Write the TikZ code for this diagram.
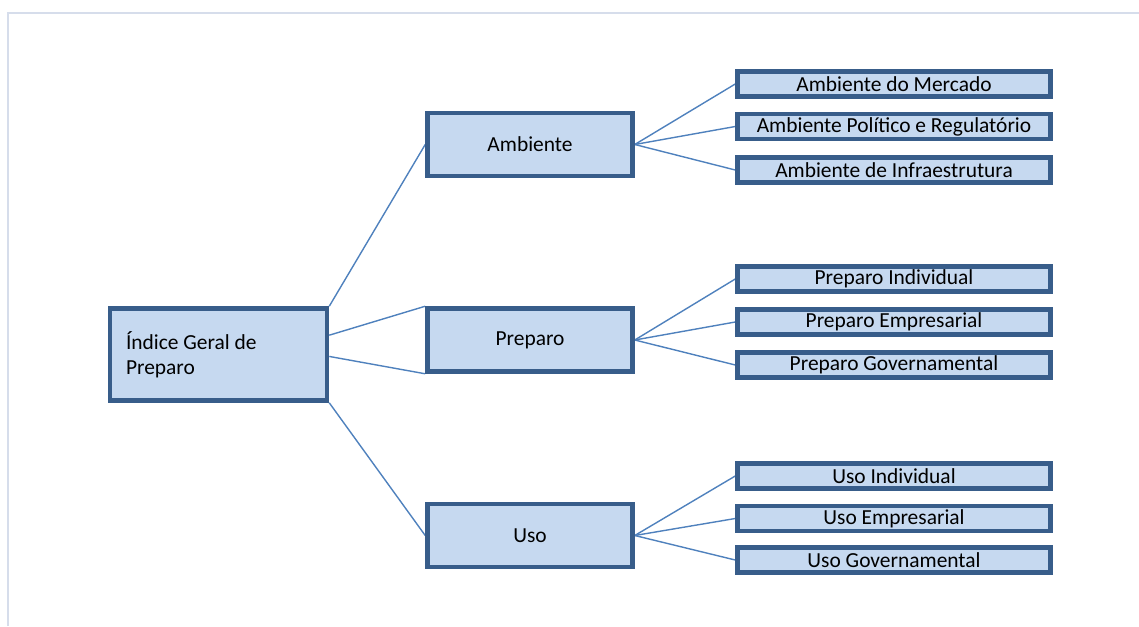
\documentclass[tikz,border=0pt]{standalone}
\usepackage{fontspec}
\setmainfont{Carlito}
\usetikzlibrary{calc,backgrounds}

\definecolor{boxfill}{RGB}{198,217,240}
\definecolor{boxline}{RGB}{56,93,138}
\definecolor{linkline}{RGB}{79,129,189}
\definecolor{frameline}{RGB}{214,221,235}

\tikzset{
    box/.style={draw=boxline,fill=boxfill,line width=2.6pt,inner sep=0pt,
        font=\fontsize{12.2}{14.2}\selectfont},
    mid/.style={box,minimum width=4.1cm,minimum height=1.26cm},
    leaf/.style={box,minimum width=6.26cm,minimum height=0.5cm},
    link/.style={draw=linkline,line width=0.8pt}
}

\begin{document}
\begin{tikzpicture}[x=0.02cm,y=-0.02cm]
    \useasboundingbox (0,0) rectangle (1139,626);
    \draw [frameline,line width=0.8pt] (8,626) -- (8,13) -- (1139,13);

    \node [box,text width=3.7cm,inner xsep=0.32cm,minimum height=1.84cm,align=flush left]
        (root) at (218.5,354.5) {Índice Geral de\\Preparo};

    \node [mid] (amb) at (530,144.5) {Ambiente};
    \node [mid] (prep) at (530,340) {Preparo};
    \node [mid] (uso) at (530,535.5) {Uso};

    \node [leaf] (amb1) at (894,84) {Ambiente do Mercado};
    \node [leaf] (amb2) at (894,126.5) {Ambiente Político e Regulatório};
    \node [leaf] (amb3) at (894,170) {Ambiente de Infraestrutura};

    \node [leaf] (prep1) at (894,279) {Preparo Individual};
    \node [leaf] (prep2) at (894,322) {Preparo Empresarial};
    \node [leaf] (prep3) at (894,365) {Preparo Governamental};

    \node [leaf] (uso1) at (894,476) {Uso Individual};
    \node [leaf] (uso2) at (894,518.5) {Uso Empresarial};
    \node [leaf] (uso3) at (894,560) {Uso Governamental};

    \begin{scope}[on background layer]
        \draw [link] (root.north east) -- (amb.west);
        \draw [link] ($(root.north east)!0.3!(root.south east)$) -- (prep.north west);
        \draw [link] ($(root.north east)!0.52!(root.south east)$) -- (prep.south west);
        \draw [link] (root.south east) -- (uso.west);
        \foreach \p in {amb,prep,uso}
            \foreach \i in {1,2,3}
                \draw [link] (\p.east) -- (\p\i.west);
    \end{scope}
\end{tikzpicture}
\end{document}
